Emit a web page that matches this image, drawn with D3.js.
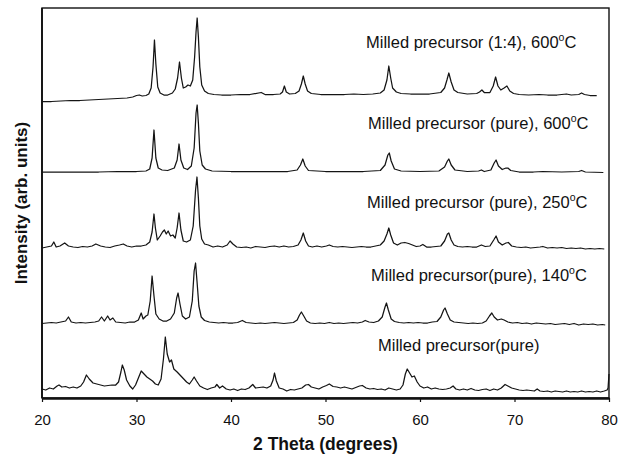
<!DOCTYPE html>
<html>
<head>
<meta charset="utf-8">
<script src="https://cdn.jsdelivr.net/npm/d3@7"></script>
<style>
  body { margin: 0; background: #fff; }
  svg { display: block; }
  text { font-family: "Liberation Sans", Arial, sans-serif; fill: #111; }
</style>
</head>
<body>
<svg id="chart"></svg>
<script>
// [2theta, intensity above the trace's own zero]
var precursor1to4_600 = [
  [20,0.5],[21,0.5],[22,1],[23,1.5],[24,1.5],[25,2],[26,2.5],[27,3],[28,3.5],[29,4],[29.6,5],[30,6.5],[30.3,7],[30.6,6],
  [31,6.5],[31.3,8],[31.55,14],[31.75,35],[31.9,62],[32.05,38],[32.25,15],[32.5,9],[32.9,7],[33.3,7],[33.8,9],[34.1,13],
  [34.35,24],[34.55,40],[34.75,24],[34.95,14],[35.2,15],[35.45,17],[35.7,16],[35.95,22],[36.15,45],[36.3,70],[36.42,84],
  [36.55,65],[36.7,35],[36.9,17],[37.2,11],[37.6,8.5],[38.2,7.5],[39,7],[40,7],[41,7.5],[42,7.5],[43.2,9.5],[43.6,7.5],
  [44.5,7.5],[45.2,8],[45.45,10],[45.65,16],[45.85,10],[46.2,8],[46.8,8.5],[47.2,11],[47.45,18],[47.65,26],[47.85,18],
  [48.1,11],[48.5,8.5],[49.5,7.5],[51,7.5],[52,7.5],[53,8],[54,7.5],[55,8],[55.8,9],[56.2,12],[56.5,22],[56.7,36],
  [56.9,24],[57.1,14],[57.5,10],[58,8.5],[59,8],[60,8],[61,8],[62.2,9.5],[62.6,14],[62.85,22],[63.05,29],[63.3,20],
  [63.6,12],[64,9.5],[65,8],[66,8.5],[66.3,10],[66.55,12],[66.8,9.5],[67.4,9.5],[67.75,16],[68,25],[68.25,16],[68.55,12],
  [68.9,14],[69.2,16],[69.5,11],[69.9,8.5],[70.5,7.5],[71.5,7],[72.6,7.5],[73.5,7],[74.5,7],[75.5,8],[76,7],[76.8,7.5],
  [77.1,9],[77.4,7.5],[78,6.5],[78.7,6.5]
];
var pure_600 = [
  [20,1],[22,1],[24,1],[26,1],[28,1.5],[30,1.5],[31,2],[31.4,4],[31.65,15],[31.85,43],[32.05,15],[32.3,5],[32.7,3],
  [33.3,2.5],[34,5],[34.3,13],[34.5,29],[34.7,13],[35,5],[35.4,3.5],[35.8,7],[36.1,25],[36.3,60],[36.42,68],[36.55,50],
  [36.7,22],[36.95,8],[37.3,4],[38,2],[40,1.5],[42,1.5],[44,1.5],[46,1.5],[47,3],[47.35,8],[47.6,14],[47.85,7],
  [48.2,2.5],[50,1.5],[52,1.5],[54,1.5],[55.8,2.5],[56.3,8],[56.6,18],[56.75,20],[56.95,12],[57.3,4],[58,2],[60,1.5],
  [62,2],[62.6,6],[62.9,12],[63.05,14],[63.3,8],[63.7,3],[65,1.5],[66.2,2],[66.5,3],[66.8,1.5],[67.5,3],[67.85,10],
  [68.05,13],[68.3,7],[68.7,3.5],[69.1,5],[69.3,5],[69.6,2.5],[70.5,1],[72,1],[73,1.5],[75,1],[76.8,1.5],[77.1,2.5],
  [77.5,1],[79.4,0.5]
];
var pure_250 = [
  [20,2],[20.5,3],[21,4],[21.25,8],[21.5,3],[21.9,4],[22.4,7],[22.8,4],[23.3,3],[23.8,2.5],[24.3,3.5],[24.8,3],[25.3,4],
  [25.7,6],[26.2,4],[26.7,3],[27.2,2.5],[27.7,4],[28.2,5],[28.6,6],[29,4],[29.5,3],[30,4],[30.5,4],[31,5],[31.4,8],
  [31.65,18],[31.85,36],[32,22],[32.2,10],[32.5,14],[32.75,18],[32.95,20],[33.15,16],[33.35,19],[33.6,14],[33.85,15],
  [34.1,12],[34.3,22],[34.5,37],[34.7,20],[34.95,9],[35.3,8],[35.7,10],[36,24],[36.25,60],[36.4,73],[36.55,52],[36.7,24],
  [36.9,11],[37.2,6],[37.6,5],[38.1,3],[38.6,4],[39.1,3],[39.6,5],[39.9,9],[40.2,6],[40.6,3],[41.1,2.5],[41.6,3],[42.1,2],
  [42.6,3.5],[43.1,3],[43.6,2.5],[44.1,3.5],[44.6,4],[45.1,3],[45.6,4],[46.1,3],[46.6,3.5],[47.1,5],[47.4,10],[47.65,17],
  [47.9,9],[48.2,4],[48.6,3],[49.1,4],[49.6,3],[50.1,4],[50.4,5],[50.8,3.5],[51.3,3],[51.8,3.5],[52.3,3],[52.8,2.5],
  [53.3,3],[53.8,3.5],[54.3,3],[54.8,3],[55.3,4],[55.8,5],[56.2,9],[56.5,16],[56.7,22],[56.9,15],[57.2,7],[57.6,5],
  [58,7],[58.4,7.5],[58.8,6.5],[59.2,5],[59.6,3.5],[60,4],[60.3,5.5],[60.7,3],[61.2,3],[61.7,3.5],[62.2,4],[62.6,9],
  [62.9,16],[63.05,17],[63.3,10],[63.6,5],[64,3.5],[64.5,3],[65,3.5],[65.5,3],[66,3],[66.5,5],[66.9,3.5],[67.4,4],
  [67.8,10],[68.05,14],[68.3,8],[68.7,5],[69.1,7],[69.35,7.5],[69.7,4],[70.2,3],[70.7,2.5],[71.2,3],[71.7,2],[72.2,2.5],
  [72.7,3],[73,3.5],[73.5,2],[74,2.5],[74.5,2],[75,2.5],[75.5,1.5],[76,2],[76.5,1.5],[77,2],[77.5,1],[78,1.5],[78.5,1],
  [79,1.5],[79.5,1]
];
var pure_140 = [
  [20,2.5],[20.5,3],[21,3.5],[21.5,3],[22,4],[22.5,5],[22.8,9],[23.1,4],[23.6,3],[24.1,3.5],[24.6,3],[25.1,3.5],[25.6,4],
  [26,5],[26.3,9],[26.6,5],[26.95,10],[27.2,6],[27.5,8],[27.8,4],[28.3,3.5],[28.8,3],[29.3,4],[29.8,4],[30.2,6],[30.5,13],
  [30.7,7],[31,10],[31.2,11],[31.45,25],[31.65,50],[31.85,30],[32.05,12],[32.4,7],[32.8,5],[33.2,5],[33.6,7],[34,13],
  [34.25,28],[34.4,33],[34.6,22],[34.85,10],[35.2,7],[35.6,9],[35.9,25],[36.1,55],[36.25,63],[36.4,45],[36.6,20],
  [36.85,9],[37.2,5.5],[37.7,4],[38.2,3.5],[38.7,3],[39.2,3.5],[39.7,3],[40.2,3],[40.7,3.5],[41.2,5.5],[41.6,3.5],
  [42.1,3],[42.6,2.5],[43.1,3],[43.6,2.5],[44.1,3],[44.6,3.5],[45.1,3],[45.6,2.5],[46.1,3],[46.6,3.5],[47,6],[47.25,11],
  [47.45,14],[47.7,10],[48,5],[48.4,3],[48.9,2.5],[49.4,3],[49.9,2.5],[50.4,3.5],[50.9,2.5],[51.4,3],[51.9,2.5],[52.4,3],
  [52.9,3.5],[53.4,3],[53.9,4],[54.2,5.5],[54.6,4],[55.1,3.5],[55.6,5],[56,9],[56.3,19],[56.45,23],[56.65,16],[56.95,7],
  [57.3,4.5],[57.8,3.5],[58.3,3],[58.8,3.5],[59.3,3],[59.8,3.5],[60.3,3],[60.8,3],[61.3,4],[61.8,4.5],[62.2,9],[62.5,16],
  [62.65,18],[62.9,12],[63.2,6],[63.6,4],[64.1,3.5],[64.6,3],[65.1,2.5],[65.6,3],[66.1,2.5],[66.6,3],[67,5],[67.35,10],
  [67.6,13],[67.85,9],[68.2,6],[68.6,7],[68.9,6],[69.3,4],[69.8,3],[70.3,3.5],[70.8,2.5],[71.3,3],[71.8,2],[72.3,3],
  [72.8,2.5],[73.3,2],[73.8,2.5],[74.3,1.5],[74.8,2],[75.3,2.5],[75.8,1.5],[76.3,2.5],[76.8,1],[77.3,2],[77.8,1.5],
  [78.3,2],[78.8,1],[79.3,1.5],[79.6,1]
];
var pure_milled = [
  [20,5],[20.4,4],[20.8,6],[21.2,5],[21.6,8],[21.8,9],[22.1,7],[22.5,7.5],[22.9,6],[23.3,7],[23.7,6],[24.1,8],[24.4,12],
  [24.7,19],[25,15],[25.4,11],[25.8,10],[26.2,9],[26.6,8],[27,8.5],[27.4,9],[27.8,9],[28.1,12],[28.35,22],[28.5,29],
  [28.7,24],[28.95,14],[29.3,8],[29.6,5],[29.9,9],[30.2,16],[30.5,23],[30.8,20],[31.1,17],[31.4,15],[31.7,13],[32,10],
  [32.3,9],[32.6,15],[32.85,35],[33.05,57],[33.25,40],[33.5,32],[33.7,34],[33.95,25],[34.3,22],[34.7,18],[35,15],
  [35.3,12],[35.6,10],[35.9,14],[36.1,17],[36.35,13],[36.7,8],[37.1,6],[37.5,4.5],[37.9,6],[38.3,7],[38.5,9.5],[38.8,6],
  [39.1,8],[39.5,5],[39.9,4],[40.3,5],[40.7,3.5],[41.1,5],[41.5,4.5],[41.9,6],[42.3,9.5],[42.6,6],[43,6.5],[43.4,7],
  [43.8,6],[44.2,8],[44.45,14],[44.6,21],[44.8,13],[45.1,6],[45.5,5],[45.9,3],[46.3,4.5],[46.7,4],[47.1,5],[47.5,6],
  [47.9,9],[48.2,9.5],[48.5,7],[48.9,6],[49.3,5],[49.7,7],[50.1,8.5],[50.4,10],[50.8,7.5],[51.2,7],[51.6,6],[52,7],
  [52.4,6],[52.8,5],[53.2,6.5],[53.6,8],[53.9,8.5],[54.3,6],[54.7,5],[55.1,5.5],[55.5,4.5],[55.9,5],[56.3,4],[56.7,6],
  [57.1,5],[57.5,4],[57.9,5],[58.2,9],[58.45,20],[58.65,25],[58.9,21],[59.15,17],[59.4,18],[59.7,12],[60,8],[60.4,6],
  [60.8,7],[61.2,5],[61.6,6],[62,5],[62.4,4.5],[62.8,5],[63.2,6],[63.5,8],[63.8,5],[64.2,4],[64.6,5],[65,4],[65.4,5.5],
  [65.8,4],[66.2,3.5],[66.6,4.5],[67,5],[67.4,3.5],[67.8,5],[68.2,4],[68.6,6],[69,9.5],[69.3,8],[69.7,6],[70.1,5],
  [70.5,4],[70.9,3.5],[71.3,4],[71.7,3.5],[72.1,3],[72.4,5],[72.7,3],[73.1,2.5],[73.5,3],[73.9,2],[74.3,3],[74.7,2.5],
  [75.1,2],[75.5,3],[75.9,2],[76.3,2.5],[76.7,2],[77.1,3],[77.5,2],[77.9,2.5],[78.3,2],[78.7,3],[79.1,2],[79.5,3],
  [79.8,4],[79.9,6],[80,20]
];

var series = [precursor1to4_600, pure_600, pure_250, pure_140, pure_milled];
var offsets = [296, 225, 148, 72, 4];
var labels = [
  ["Milled precursor (1:4), 600", "C"],
  ["Milled precursor (pure), 600", "C"],
  ["Milled precursor (pure), 250", "C"],
  ["Milled precursor(pure), 140", "C"],
  ["Milled precursor(pure)", ""]
];
var xTicks = [20, 30, 40, 50, 60, 70, 80];

var svgWidth = 627, svgHeight = 458;
var margin = {top: 8, right: 18, bottom: 60, left: 42};
var width = svgWidth - margin.left - margin.right;
var height = svgHeight - margin.top - margin.bottom;

// label anchors in page pixels
var labelX = [366, 368, 367, 371, 378];
var labelY = [48, 129, 208, 281, 351];

var svg = d3.select("#chart")
    .attr("width", svgWidth)
    .attr("height", svgHeight);
var g = svg.append("g")
    .attr("transform", "translate(" + margin.left + "," + margin.top + ")");

var x = d3.scaleLinear().domain([20, 80]).range([0, width]);
var y = d3.scaleLinear().domain([0, 390]).range([height, 0]);

// frame
g.append("rect")
    .attr("width", width)
    .attr("height", height)
    .attr("fill", "none")
    .attr("stroke", "#111")
    .attr("stroke-width", 1.4);

var xAxis = g.append("g")
    .attr("transform", "translate(0," + height + ")")
    .call(d3.axisBottom(x).tickValues(xTicks).tickSize(4).tickSizeOuter(0).tickPadding(12));
xAxis.select(".domain").attr("stroke", "#111").attr("stroke-width", 2.6);
xAxis.selectAll(".tick line").attr("stroke", "#111").attr("stroke-width", 1.2);
xAxis.selectAll(".tick text")
    .attr("font-family", "Liberation Sans, Arial, sans-serif")
    .attr("font-size", 15)
    .attr("fill", "#111");

g.append("line")
    .attr("x1", 0).attr("x2", 0)
    .attr("y1", 0).attr("y2", height)
    .attr("stroke", "#111")
    .attr("stroke-width", 1.8);

var line = d3.line()
    .x(function(d) { return x(d[0]); })
    .y(function(d) { return y(d[1] + d.offset); });

series.forEach(function(s, i) {
    var pts = s.map(function(d) { var p = [d[0], d[1]]; p.offset = offsets[i]; return p; });
    g.append("path")
        .datum(pts)
        .attr("fill", "none")
        .attr("stroke", "#141414")
        .attr("stroke-width", 1.25)
        .attr("stroke-linejoin", "round")
        .attr("d", line);
});

labels.forEach(function(l, i) {
    var t = svg.append("text")
        .attr("x", labelX[i])
        .attr("y", labelY[i])
        .attr("font-size", 16.5);
    t.append("tspan").text(l[0]);
    if (l[1]) {
        t.append("tspan").attr("font-size", 10.5).attr("dy", -7).text("o");
        t.append("tspan").attr("dy", 7).text(l[1]);
    }
});

svg.append("text")
    .attr("x", margin.left + width / 2)
    .attr("y", 450)
    .attr("text-anchor", "middle")
    .attr("font-size", 17.5)
    .attr("font-weight", "bold")
    .text("2 Theta (degrees)");

svg.append("text")
    .attr("transform", "translate(27," + (margin.top + height / 2) + ") rotate(-90)")
    .attr("text-anchor", "middle")
    .attr("font-size", 17)
    .attr("font-weight", "bold")
    .text("Intensity (arb. units)");
</script>
</body>
</html>
